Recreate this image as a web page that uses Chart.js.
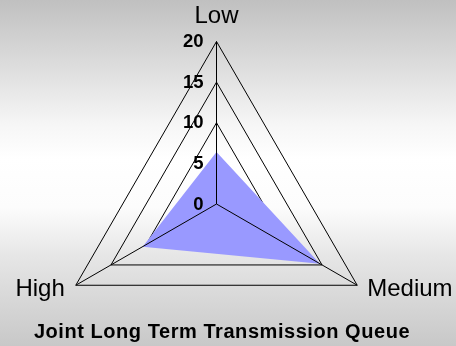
<!DOCTYPE html>
<html>
<head>
<meta charset="utf-8">
<script src="https://cdn.jsdelivr.net/npm/chart.js@4"></script>
<style>
  html, body { margin: 0; padding: 0; }
  body {
    width: 456px;
    height: 346px;
    overflow: hidden;
    background: linear-gradient(to bottom, #c0c0c0 0%, #f6f6f6 36%, #ffffff 46%, #fcfcfc 60%, #e6e6e6 74%, #c8c8c8 100%);
  }
</style>
</head>
<body>
<canvas id="chart" width="456" height="346"></canvas>
<script>
const categories = ['Low', 'Medium', 'High'];
const queueValues = [6.4, 14.7, 10.5];
const tickValues = [0, 5, 10, 15, 20];

// plot area is placed by hand, like the original
const plotCenterX = 216.5;
const plotCenterY = 204;
const plotRadius = 162.5;

const fontFamily = '"Liberation Sans", Arial, sans-serif';

// the title is drawn before the datasets; give it the wider spacing of the original
const titleSpacing = {
    id: 'titleSpacing',
    beforeDraw(chart) {
        chart.ctx.letterSpacing = '0.55px';
    },
    beforeDatasetsDraw(chart) {
        chart.ctx.letterSpacing = '0px';
    }
};

// spokes, tick numbers and category names go on top of the filled area
const overlay = {
    id: 'overlay',
    afterDatasetsDraw(chart) {
        const ctx = chart.ctx;
        const scale = chart.scales.r;
        const max = tickValues[tickValues.length - 1];
        ctx.save();

        ctx.strokeStyle = '#000';
        ctx.lineWidth = 1;
        categories.forEach((c, i) => {
            const p = scale.getPointPositionForValue(i, max);
            ctx.beginPath();
            ctx.moveTo(scale.xCenter, scale.yCenter);
            ctx.lineTo(p.x, p.y);
            ctx.stroke();
        });

        ctx.fillStyle = '#000';
        ctx.font = 'bold 18.5px ' + fontFamily;
        ctx.textAlign = 'right';
        ctx.textBaseline = 'middle';
        tickValues.forEach(v => {
            const p = scale.getPointPositionForValue(0, v);
            ctx.fillText(String(v), p.x - 13, p.y + 0.5);
        });

        ctx.font = '24px ' + fontFamily;
        ctx.textBaseline = 'alphabetic';
        categories.forEach((c, i) => {
            const p = scale.getPointPositionForValue(i, max);
            const dx = p.x - scale.xCenter;
            if (Math.abs(dx) < 1) {
                ctx.textAlign = 'center';
                ctx.fillText(c, p.x, p.y - 18.5);
            } else if (dx > 0) {
                ctx.textAlign = 'left';
                ctx.fillText(c, p.x + 10, p.y + 11);
            } else {
                ctx.textAlign = 'right';
                ctx.fillText(c, p.x - 11, p.y + 11);
            }
        });

        ctx.restore();
    }
};

const ctx = document.getElementById('chart').getContext('2d');
new Chart(ctx, {
    type: 'radar',
    data: {
        labels: categories,
        datasets: [{
            label: 'Joint Long Term Transmission Queue',
            data: queueValues,
            backgroundColor: '#9999ff',
            borderColor: 'rgba(0,0,0,0)',
            borderWidth: 0,
            pointRadius: 0,
            fill: true
        }]
    },
    options: {
        responsive: false,
        animation: false,
        layout: { padding: { right: 12 } },
        scales: {
            r: {
                min: 0,
                max: 20,
                ticks: { display: false, stepSize: 5 },
                pointLabels: { display: false },
                angleLines: { display: false },
                grid: { circular: false, color: '#000', lineWidth: 1 },
                afterFit(scale) {
                    scale.xCenter = plotCenterX;
                    scale.yCenter = plotCenterY;
                    scale.drawingArea = plotRadius;
                }
            }
        },
        plugins: {
            legend: { display: false },
            tooltip: { enabled: false },
            title: {
                display: true,
                position: 'bottom',
                text: 'Joint Long Term Transmission Queue',
                color: '#000',
                font: { family: fontFamily, size: 20, weight: 'bold' },
                padding: { top: 6, bottom: 2 }
            }
        }
    },
    plugins: [titleSpacing, overlay]
});
</script>
</body>
</html>
